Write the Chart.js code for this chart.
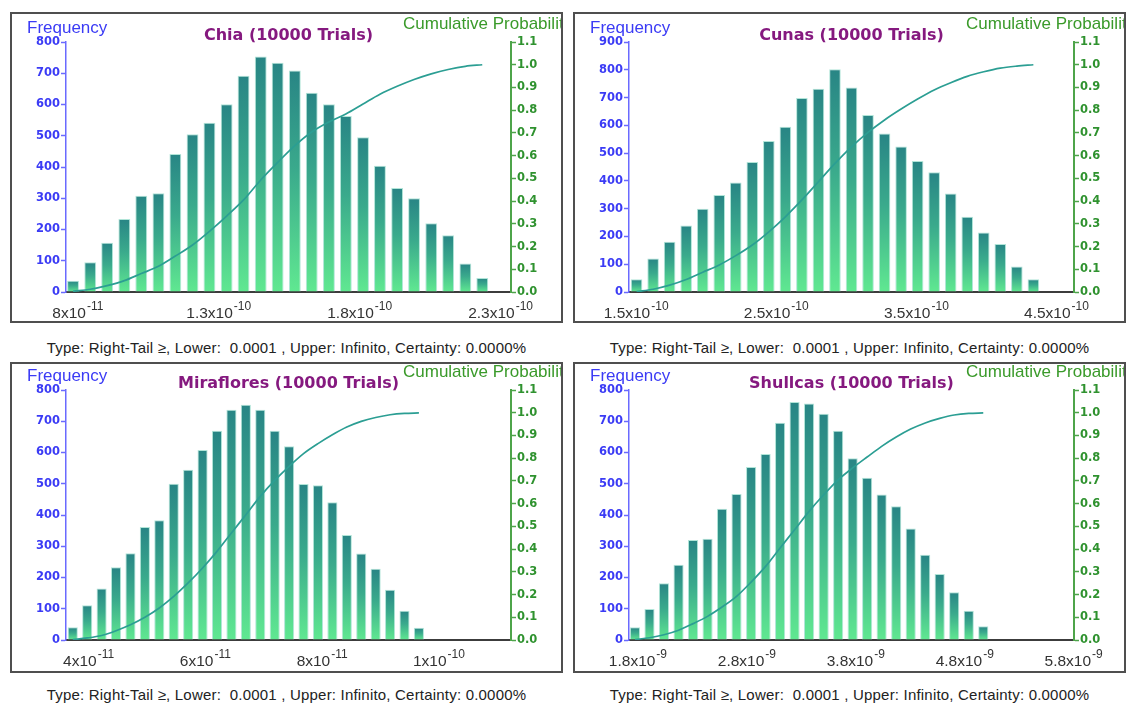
<!DOCTYPE html>
<html>
<head>
<meta charset="utf-8">
<script src="https://cdn.jsdelivr.net/npm/chart.js@4.4.1/dist/chart.umd.min.js"></script>
<style>
  html, body { margin: 0; padding: 0; background: #fff; }
  body { width: 1127px; height: 704px; position: relative; overflow: hidden;
         font-family: "Liberation Sans", Arial, sans-serif; }
  .panel { position: absolute; width: 553px; height: 311px; box-sizing: border-box;
           border: 2px solid #4f4f4f; background: #fff; overflow: hidden; }
  .panel canvas { display: block; }
  .caption { position: absolute; width: 553px; text-align: center; font-size: 15px;
             line-height: 16px; color: #222; white-space: nowrap; letter-spacing: 0.2px; }
</style>
</head>
<body>
<div class="panel" style="left:10px;top:12px"><canvas id="chia" width="549" height="307"></canvas></div>
<div class="panel" style="left:573px;top:12px"><canvas id="cunas" width="549" height="307"></canvas></div>
<div class="caption" style="left:10px;top:340px">Type: Right-Tail ≥, Lower:&nbsp; 0.0001 , Upper: Infinito, Certainty: 0.0000%</div>
<div class="caption" style="left:573px;top:340px">Type: Right-Tail ≥, Lower:&nbsp; 0.0001 , Upper: Infinito, Certainty: 0.0000%</div>
<div class="panel" style="left:10px;top:362px"><canvas id="miraflores" width="549" height="307"></canvas></div>
<div class="panel" style="left:573px;top:362px"><canvas id="shullcas" width="549" height="307"></canvas></div>
<div class="caption" style="left:10px;top:687px">Type: Right-Tail ≥, Lower:&nbsp; 0.0001 , Upper: Infinito, Certainty: 0.0000%</div>
<div class="caption" style="left:573px;top:687px">Type: Right-Tail ≥, Lower:&nbsp; 0.0001 , Upper: Infinito, Certainty: 0.0000%</div>

<script>
// ---- shared axis ticks ----
const freqTicks800 = [0, 100, 200, 300, 400, 500, 600, 700, 800];
const freqTicks900 = [0, 100, 200, 300, 400, 500, 600, 700, 800, 900];
const cumTicks = [0, 0.1, 0.2, 0.3, 0.4, 0.5, 0.6, 0.7, 0.8, 0.9, 1.0, 1.1];

// ---- Chia ----
const chiaBins = [7.83e-11, 8.44e-11, 9.04e-11, 9.65e-11, 1.025e-10, 1.086e-10, 1.146e-10, 1.207e-10,
  1.267e-10, 1.328e-10, 1.388e-10, 1.449e-10, 1.509e-10, 1.570e-10, 1.630e-10, 1.691e-10, 1.751e-10,
  1.812e-10, 1.872e-10, 1.933e-10, 1.993e-10, 2.054e-10, 2.114e-10, 2.175e-10, 2.235e-10];
const chiaFreq = [36, 95, 158, 234, 308, 316, 442, 505, 542, 601, 692, 754, 734, 709, 638, 601,
  563, 495, 404, 333, 300, 220, 182, 91, 45];
const chiaCum = [0.003, 0.012, 0.028, 0.050, 0.081, 0.113, 0.158, 0.207, 0.267, 0.334, 0.405, 0.493,
  0.570, 0.644, 0.704, 0.748, 0.783, 0.827, 0.870, 0.905, 0.935, 0.960, 0.979, 0.993, 1.000];
const chiaTickValues = [8e-11, 1.3e-10, 1.8e-10, 2.3e-10];
const chiaTickLabels = ['8x10^-11', '1.3x10^-10', '1.8x10^-10', '2.3x10^-10'];

// ---- Cunas ----
const cunasBins = [1.503e-10, 1.621e-10, 1.739e-10, 1.857e-10, 1.975e-10, 2.093e-10, 2.211e-10, 2.329e-10,
  2.447e-10, 2.565e-10, 2.683e-10, 2.801e-10, 2.919e-10, 3.037e-10, 3.155e-10, 3.273e-10, 3.391e-10,
  3.509e-10, 3.627e-10, 3.745e-10, 3.863e-10, 3.981e-10, 4.099e-10, 4.217e-10, 4.335e-10];
const cunasFreq = [46, 121, 181, 239, 300, 349, 394, 468, 544, 595, 698, 732, 802, 736, 637, 571,
  524, 472, 431, 355, 271, 214, 173, 92, 46];
const cunasCum = [0.002, 0.012, 0.030, 0.055, 0.087, 0.119, 0.160, 0.207, 0.265, 0.331, 0.405, 0.485,
  0.566, 0.639, 0.702, 0.757, 0.805, 0.849, 0.889, 0.921, 0.949, 0.969, 0.985, 0.994, 1.000];
const cunasTickValues = [1.5e-10, 2.5e-10, 3.5e-10, 4.5e-10];
const cunasTickLabels = ['1.5x10^-10', '2.5x10^-10', '3.5x10^-10', '4.5x10^-10'];

// ---- Miraflores ----
const mirafloresBins = [3.729e-11, 3.976e-11, 4.223e-11, 4.470e-11, 4.717e-11, 4.964e-11, 5.211e-11,
  5.458e-11, 5.705e-11, 5.952e-11, 6.199e-11, 6.446e-11, 6.693e-11, 6.940e-11, 7.187e-11, 7.434e-11,
  7.681e-11, 7.928e-11, 8.175e-11, 8.422e-11, 8.669e-11, 8.916e-11, 9.163e-11, 9.410e-11, 9.657e-11];
const mirafloresFreq = [41, 111, 165, 233, 278, 362, 383, 500, 545, 608, 670, 737, 753, 737, 670, 620,
  499, 495, 441, 336, 277, 228, 161, 94, 39];
const mirafloresCum = [0.002, 0.009, 0.020, 0.041, 0.067, 0.100, 0.141, 0.192, 0.251, 0.317, 0.390,
  0.471, 0.551, 0.632, 0.702, 0.764, 0.820, 0.864, 0.903, 0.937, 0.962, 0.979, 0.991, 0.997, 0.999];
const mirafloresTickValues = [4e-11, 6e-11, 8e-11, 1e-10];
const mirafloresTickLabels = ['4x10^-11', '6x10^-11', '8x10^-11', '1x10^-10'];

// ---- Shullcas ----
const shullcasBins = [1.773e-9, 1.906e-9, 2.039e-9, 2.173e-9, 2.306e-9, 2.439e-9, 2.572e-9, 2.705e-9,
  2.839e-9, 2.972e-9, 3.105e-9, 3.238e-9, 3.371e-9, 3.505e-9, 3.638e-9, 3.771e-9, 3.904e-9, 4.037e-9,
  4.171e-9, 4.304e-9, 4.437e-9, 4.570e-9, 4.703e-9, 4.837e-9, 4.970e-9];
const shullcasFreq = [41, 99, 182, 241, 320, 324, 420, 467, 554, 595, 695, 762, 757, 724, 670, 582,
  519, 466, 428, 357, 273, 211, 153, 94, 44];
const shullcasCum = [0.002, 0.010, 0.023, 0.043, 0.072, 0.104, 0.145, 0.192, 0.255, 0.324, 0.405,
  0.485, 0.566, 0.639, 0.705, 0.757, 0.805, 0.852, 0.893, 0.928, 0.955, 0.975, 0.990, 0.997, 0.999];
const shullcasTickValues = [1.8e-9, 2.8e-9, 3.8e-9, 4.8e-9, 5.8e-9];
const shullcasTickLabels = ['1.8x10^-9', '2.8x10^-9', '3.8x10^-9', '4.8x10^-9', '5.8x10^-9'];

// ---- drawing helpers ----
const BLUE_TEXT = '#3b3bf5';
const BLUE_AXIS = '#6a6aff';
const GREEN_TEXT = '#2f922f';
const GREEN_AXIS = '#4ea44a';
const TICK_FONT = { family: '"DejaVu Sans", sans-serif', size: 11.5, weight: 'bold' };

// vertical teal-to-green fill for each histogram bar
function barFill(ctx) {
  const chart = ctx.chart;
  if (ctx.type !== 'data' || !chart.chartArea || !ctx.parsed) return '#3cae8c';
  const ys = chart.scales.y;
  const top = ys.getPixelForValue(ctx.parsed.y);
  const base = ys.getPixelForValue(0);
  if (!isFinite(top) || !isFinite(base) || base - top < 1) return '#4cc48e';
  const g = chart.ctx.createLinearGradient(0, top, 0, base);
  g.addColorStop(0, '#288585');
  g.addColorStop(0.45, '#3aaa8c');
  g.addColorStop(1, '#60e891');
  return g;
}

// panel title, axis captions and exponent-style x labels
const panelText = {
  id: 'panelText',
  afterDraw(chart, args, opts) {
    const { ctx, chartArea: a, scales } = chart;
    ctx.save();
    ctx.font = 'bold 16px "DejaVu Sans", sans-serif';
    ctx.fillStyle = '#85197f';
    ctx.textAlign = 'center';
    ctx.textBaseline = 'middle';
    ctx.fillText(opts.title, (a.left + a.right) / 2, a.top - 6);

    ctx.textAlign = 'left';
    ctx.textBaseline = 'alphabetic';
    ctx.font = '17px "Liberation Sans", Arial, sans-serif';
    ctx.fillStyle = BLUE_TEXT;
    ctx.fillText('Frequency', a.left - 39, a.top - 9);
    ctx.fillStyle = '#3a9a2a';
    ctx.fillText('Cumulative Probability', a.left + 337, a.top - 13);

    const xs = scales.x;
    const mainFont = '15.5px "Liberation Sans", Arial, sans-serif';
    const supFont = '12px "Liberation Sans", Arial, sans-serif';
    ctx.fillStyle = '#333333';
    opts.tickValues.forEach((v, i) => {
      const [mant, exp] = opts.tickLabels[i].split('^');
      const px = xs.getPixelForValue(v);
      ctx.font = mainFont;
      const wm = ctx.measureText(mant).width;
      ctx.font = supFont;
      const we = ctx.measureText(exp).width;
      const x0 = px - (wm + 1 + we) / 2;
      const base = a.bottom + 26;
      ctx.font = mainFont;
      ctx.fillText(mant, x0, base);
      ctx.font = supFont;
      ctx.fillText(exp, x0 + wm + 1, base - 8);
    });
    ctx.restore();
  }
};

function makeChart(id, p) {
  const xHeight = 307 - p.padTop - 250;
  return new Chart(document.getElementById(id), {
    type: 'bar',
    data: {
      datasets: [
        {
          type: 'line', order: 0, yAxisID: 'y2',
          data: p.bins.map((x, i) => ({ x, y: p.cum[i] })),
          borderColor: '#2b9e93', borderWidth: 1.7, pointRadius: 0, fill: false,
          cubicInterpolationMode: 'monotone'
        },
        {
          type: 'bar', order: 1, yAxisID: 'y',
          data: p.bins.map((x, i) => ({ x, y: p.freq[i] })),
          backgroundColor: barFill,
          borderColor: 'rgba(168,226,212,0.9)', borderWidth: 1,
          categoryPercentage: 1, barPercentage: 0.7
        }
      ]
    },
    options: {
      responsive: false,
      animation: false,
      devicePixelRatio: 1,
      layout: { padding: { top: p.padTop, left: 0, right: 0, bottom: 0 } },
      plugins: {
        legend: { display: false },
        tooltip: { enabled: false },
        panelText: { title: p.title, tickValues: p.tickValues, tickLabels: p.tickLabels }
      },
      scales: {
        x: {
          type: 'linear', position: 'bottom', offset: false,
          min: p.xMin, max: p.xMax,
          grid: { display: false },
          border: { display: true, color: '#3c3c3c', width: 2 },
          ticks: { display: false },
          afterBuildTicks: s => { s.ticks = p.tickValues.map(v => ({ value: v })); },
          afterFit: s => { s.height = xHeight; }
        },
        y: {
          type: 'linear', position: 'left', min: 0, max: p.freqTicks[p.freqTicks.length - 1],
          grid: { drawOnChartArea: false, drawTicks: true, tickLength: 5, tickColor: BLUE_AXIS, tickWidth: 1.5 },
          border: { display: true, color: BLUE_AXIS, width: 1.5 },
          ticks: { color: BLUE_TEXT, padding: 1, font: TICK_FONT },
          afterBuildTicks: s => { s.ticks = p.freqTicks.map(v => ({ value: v })); },
          afterFit: s => { s.width = 54; }
        },
        y2: {
          type: 'linear', position: 'right', min: 0, max: 1.1,
          grid: { drawOnChartArea: false, drawTicks: true, tickLength: 5, tickColor: GREEN_AXIS, tickWidth: 1.5 },
          border: { display: true, color: GREEN_AXIS, width: 2 },
          ticks: { color: GREEN_TEXT, padding: 1, font: TICK_FONT,
                   callback: v => Number(v).toFixed(1) },
          afterBuildTicks: s => { s.ticks = cumTicks.map(v => ({ value: v })); },
          afterFit: s => { s.width = 50; }
        }
      }
    },
    plugins: [panelText]
  });
}

makeChart('chia', {
  title: 'Chia (10000 Trials)', padTop: 28, xMin: 7.58e-11, xMax: 2.337e-10,
  bins: chiaBins, freq: chiaFreq, cum: chiaCum, freqTicks: freqTicks800,
  tickValues: chiaTickValues, tickLabels: chiaTickLabels
});
makeChart('cunas', {
  title: 'Cunas (10000 Trials)', padTop: 28, xMin: 1.449e-10, xMax: 4.625e-10,
  bins: cunasBins, freq: cunasFreq, cum: cunasCum, freqTicks: freqTicks900,
  tickValues: cunasTickValues, tickLabels: cunasTickLabels
});
makeChart('miraflores', {
  title: 'Miraflores (10000 Trials)', padTop: 26, xMin: 3.613e-11, xMax: 1.1234e-10,
  bins: mirafloresBins, freq: mirafloresFreq, cum: mirafloresCum, freqTicks: freqTicks800,
  tickValues: mirafloresTickValues, tickLabels: mirafloresTickLabels
});
makeChart('shullcas', {
  title: 'Shullcas (10000 Trials)', padTop: 26, xMin: 1.718e-9, xMax: 5.803e-9,
  bins: shullcasBins, freq: shullcasFreq, cum: shullcasCum, freqTicks: freqTicks800,
  tickValues: shullcasTickValues, tickLabels: shullcasTickLabels
});
</script>
</body>
</html>
